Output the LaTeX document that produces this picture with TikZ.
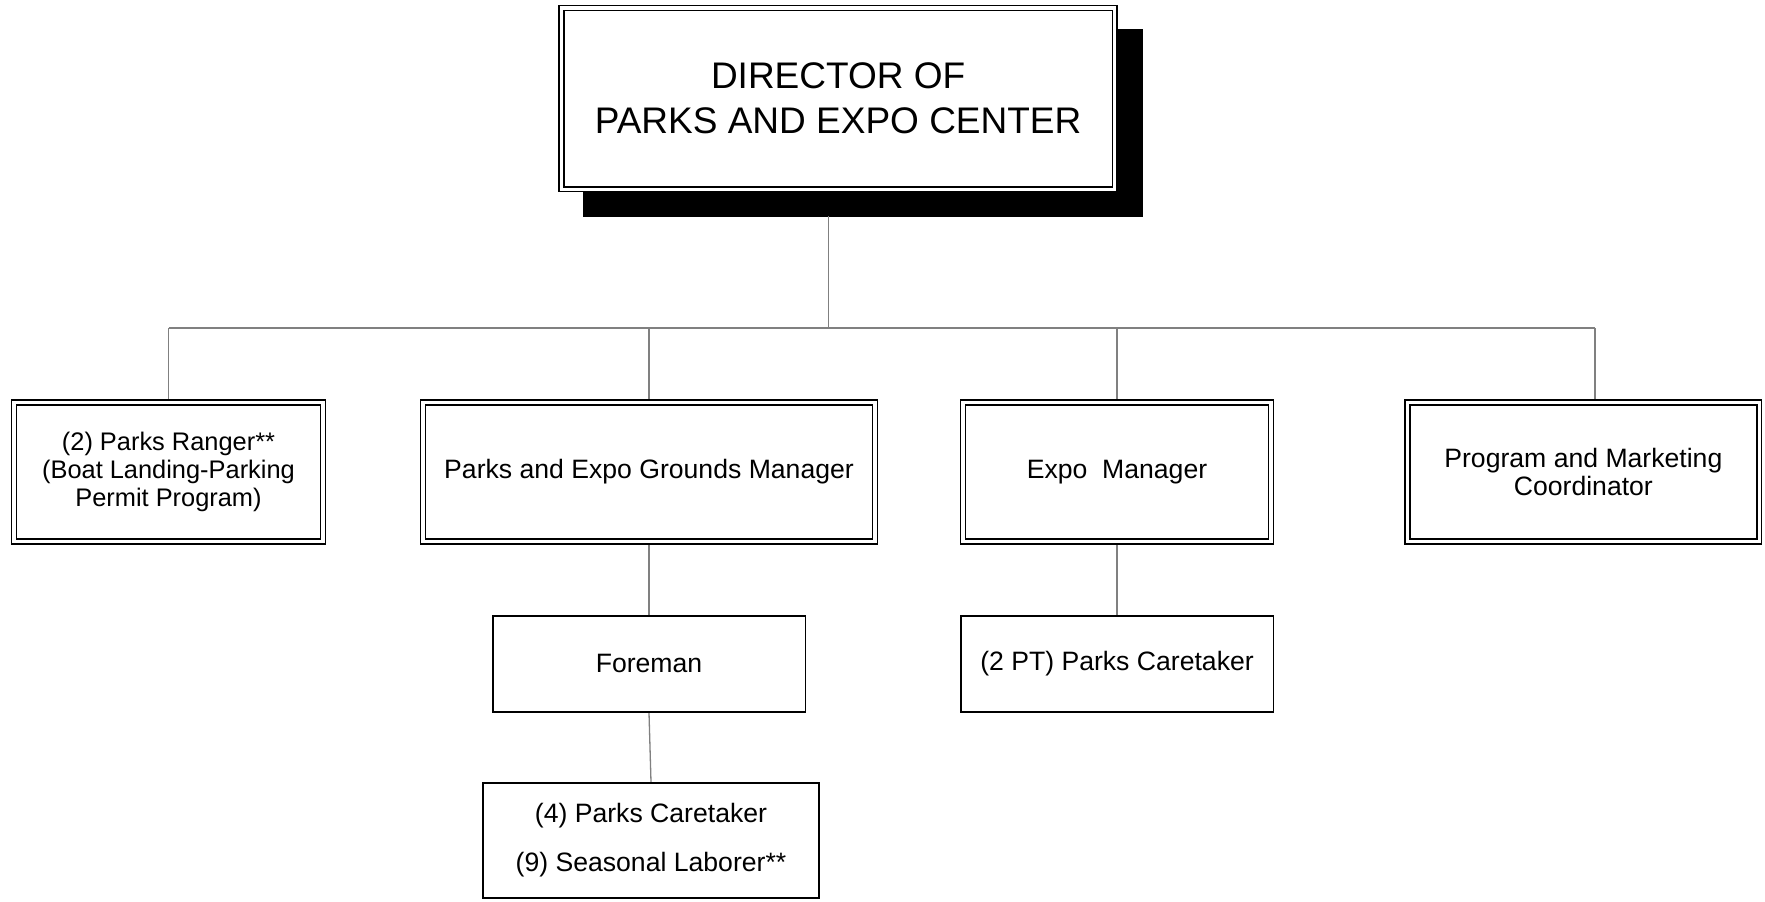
\documentclass[tikz,border=0pt]{standalone}
\usepackage{fontspec}
\setmainfont{Liberation Sans}
\usetikzlibrary{calc,backgrounds}
\definecolor{LinkClr}{rgb}{0.5,0.5,0.5}
\definecolor{ShadowClr}{rgb}{0,0,0}

\begin{document}
\begin{tikzpicture}[x=0.5pt,y=-0.5pt,
  post/.style={draw=black,fill=white,line width=0.75pt,double=white,double distance=1.65pt,
    align=center,inner sep=0pt,font=\fontsize{13.3}{14.2}\selectfont},
  unit/.style={draw=black,fill=white,line width=0.8pt,
    align=center,inner sep=0pt,font=\fontsize{13.3}{14.2}\selectfont},
  link/.style={draw=LinkClr,line width=0.65pt}]
\useasboundingbox (0,0) rectangle (1765,901);

\node[post,minimum width=276.7pt,minimum height=90.6pt,font=\fontsize{18.5}{22.5}\selectfont]
  (dir) at (838.1,98.7) {DIRECTOR OF\\PARKS AND EXPO CENTER};

\node[post,minimum width=154.4pt,minimum height=69.6pt,font=\fontsize{12.7}{14.2}\selectfont]
  (ranger) at (168.5,472) {(2) Parks Ranger**\\(Boat Landing-Parking\\Permit Program)};
\node[post,minimum width=225.9pt,minimum height=69.6pt] (grounds) at (649,472)
  {Parks and Expo Grounds Manager};
\node[post,minimum width=153.9pt,minimum height=69.6pt] (expo) at (1117,472)
  {Expo~~Manager};
\node[post,minimum width=175.95pt,minimum height=69.6pt] (prog) at (1583.35,472)
  {Program and Marketing\\Coordinator};

\node[unit,minimum width=156.3pt,minimum height=48.15pt] (foreman) at (649,663.9) {Foreman};
\node[unit,minimum width=156.3pt,minimum height=48.15pt] (caretakers) at (1117,663.9)
  {(2 PT) Parks Caretaker};
\node[unit,minimum width=168pt,minimum height=57.5pt,font=\fontsize{13.3}{24.5}\selectfont]
  (crew) at (651,840.5) {(4) Parks Caretaker\\(9) Seasonal Laborer**};

\coordinate (dirfoot) at (828.7,216.3);
\coordinate (busL) at (168.5,328);
\coordinate (busR) at (1595,328);

\begin{pgfonlayer}{background}
\fill[ShadowClr] ($(dir.north west)+(22,22)$) rectangle ($(dir.south east)+(27,27)$);
\draw[link] (dirfoot) -- (dirfoot |- busL);
\draw[link] (busL) -- (busR);
\draw[link] (busL) -- (ranger.north);
\draw[link] (grounds.north |- busL) -- (grounds.north);
\draw[link] (expo.north |- busL) -- (expo.north);
\draw[link] (busR) -- (busR |- prog.north);
\draw[link] (grounds.south) -- (foreman.north);
\draw[link] (foreman.south) -- (crew.north);
\draw[link] (expo.south) -- (caretakers.north);
\end{pgfonlayer}

\end{tikzpicture}
\end{document}
